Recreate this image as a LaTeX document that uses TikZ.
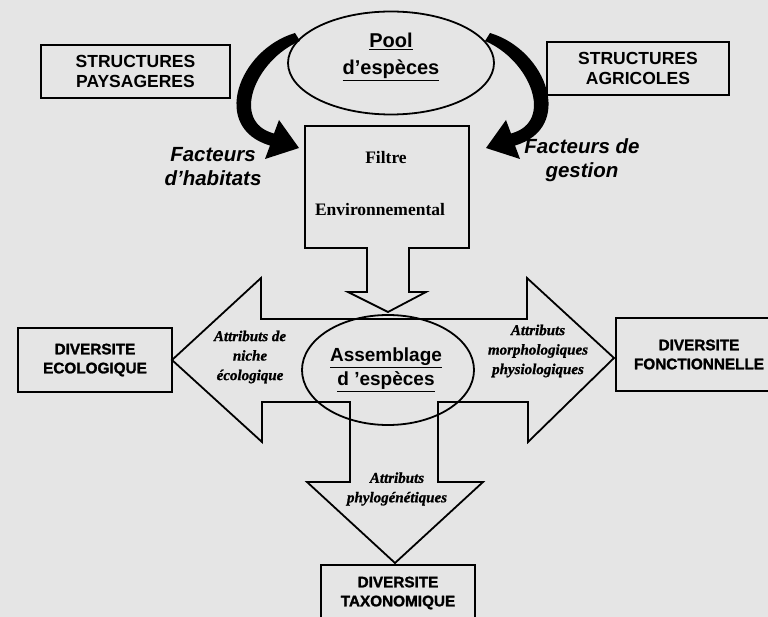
\documentclass[tikz,border=0pt]{standalone}
\usepackage{fontspec}
\setmainfont{Liberation Serif}
\setsansfont{Liberation Sans}
\usetikzlibrary{shapes.geometric}
\begin{document}
\begin{tikzpicture}[x=1pt,y=-1pt,
  outl/.style={draw=black,line width=1.8pt,line join=miter},
  sbox/.style={outl,rectangle,inner sep=0pt,align=center,font=\sffamily\bfseries\fontsize{17.5}{20}\selectfont},
  dbox/.style={outl,rectangle,inner sep=0pt,align=center,font=\sffamily\bfseries\addfontfeature{FakeBold=1.5}\fontsize{15.3}{19}\selectfont},
  oval/.style={outl,ellipse,inner sep=0pt},
  facteur/.style={align=center,inner sep=0pt,font=\sffamily\bfseries\itshape\fontsize{20.5}{24}\selectfont},
  attr/.style={align=center,inner sep=0pt,font=\rmfamily\bfseries\itshape\addfontfeature{FakeBold=1}\fontsize{15}{19.5}\selectfont},
  filt/.style={inner sep=0pt,font=\rmfamily\bfseries\fontsize{17.5}{20}\selectfont},
  ovaltxt/.style={align=center,inner sep=0pt,font=\sffamily\bfseries\fontsize{20}{27}\selectfont},
  bendarrow/.style={fill=black}
]
\useasboundingbox (0,0) rectangle (768,617);
\fill[black!10] (0,0) rectangle (768,617);
\clip (0,0) rectangle (768,617);

% boxes
\node[sbox,minimum width=189pt,minimum height=53pt] (paysag) at (135.5,71.5) {STRUCTURES\\PAYSAGERES};
\node[sbox,minimum width=182pt,minimum height=53pt] (agric) at (638,68.5) {STRUCTURES\\AGRICOLES};
\node[dbox,minimum width=154pt,minimum height=64pt] (divEco) at (95,360) {DIVERSITE\\ECOLOGIQUE};
\node[dbox,minimum width=166pt,minimum height=73pt] (divFonc) at (699,354.5) {DIVERSITE\\FONCTIONNELLE};
\node[dbox,minimum width=154pt,minimum height=56pt] (divTax) at (398,593) {DIVERSITE\\TAXONOMIQUE};

% pool ellipse
\node[oval,minimum width=206pt,minimum height=103pt] (pool) at (391,63) {};
\node[ovaltxt] (pooltxt) at (391,57) {\underline{Pool}\\\underline{d'espèces}};

% curved arrows
\fill[bendarrow] (295,33) .. controls (238,50) and (210,128) .. (270,145.5) -- (265,159) -- (299,148) -- (279,120) -- (274,133.5) .. controls (230,122) and (255,60) .. (300,41) -- cycle;
\fill[bendarrow] (490,33) .. controls (547,50) and (575,128) .. (515,145.5) -- (520,159) -- (486,148) -- (506,120) -- (511,133.5) .. controls (555,122) and (530,60) .. (485,41) -- cycle;

\node[facteur] (fhab) at (213,167) {Facteurs\\d'habitats};
\node[facteur] (fges) at (582,160) {Facteurs de\\gestion};

% filter
\draw[outl] (305,126) -- (469,126) -- (469,248) -- (409,248) -- (409,292) -- (426,292) -- (388,312) -- (348,292) -- (367,292) -- (367,248) -- (305,248) -- cycle;
\node[filt] (filtre) at (386,158) {Filtre};
\node[filt] (envir) at (380,210) {Environnemental};

% block arrows
\draw[outl] (172,360) -- (261,278) -- (261,319) -- (527,319) -- (527,278) -- (614,358) -- (528,442) -- (528,402) -- (438,402) -- (438,482) -- (483,482) -- (395,563) -- (307,482) -- (350,482) -- (350,402) -- (262,402) -- (262,442) -- cycle;

% assemblage
\node[oval,minimum width=172pt,minimum height=110pt] (assemb) at (388,370) {};
\node[ovaltxt,font=\sffamily\bfseries\fontsize{19}{24}\selectfont] (assembtxt) at (386,370) {\underline{Assemblage}\\\underline{d 'espèces}};

\node[attr] (aeco) at (250,357) {Attributs de\\niche\\écologique};
\node[attr] (amor) at (538,351) {Attributs\\morphologiques\\physiologiques};
\node[attr] (aphy) at (397,489) {Attributs\\phylogénétiques};
\end{tikzpicture}
\end{document}
